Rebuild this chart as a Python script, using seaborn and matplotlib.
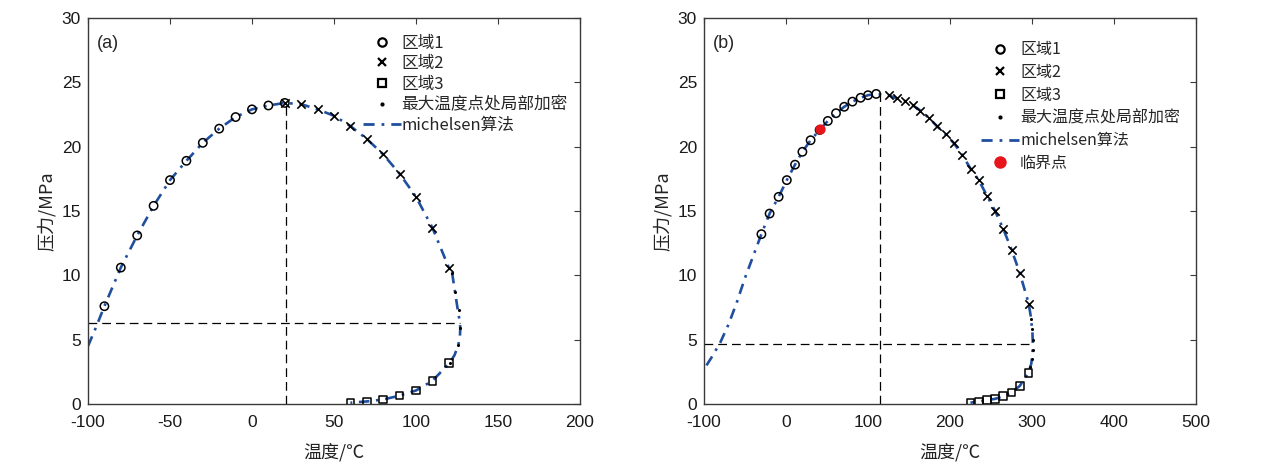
import numpy as np
import pandas as pd
import matplotlib
matplotlib.use("Agg")
import matplotlib.pyplot as plt
from matplotlib.lines import Line2D
import seaborn as sns

# ---- panel (a) data ----
a_r1_t = [-90, -80, -70, -60, -50, -40, -30, -20, -10, 0, 10, 20]
a_r1_p = [7.6, 10.6, 13.1, 15.4, 17.4, 18.9, 20.3, 21.4, 22.3, 22.9, 23.2, 23.4]
a_r2_t = [20, 30, 40, 50, 60, 70, 80, 90, 100, 110, 120]
a_r2_p = [23.4, 23.3, 22.9, 22.4, 21.6, 20.6, 19.4, 17.9, 16.1, 13.7, 10.6]
a_r3_t = [60, 70, 80, 90, 100, 110, 120]
a_r3_p = [0.1, 0.2, 0.35, 0.65, 1.05, 1.8, 3.2]
a_dense_t = [122.0, 123.8, 126.3, 126.8, 125.8, 120.6]
a_dense_p = [10.2, 8.7, 7.3, 5.9, 4.6, 3.2]
a_curve_t = [-100, -95, -90, -80, -70, -60, -50, -40, -30, -20, -10, 0, 10, 20,
             30, 40, 50, 60, 70, 80, 90, 100, 110, 120, 122.0, 123.8, 125.5,
             126.8, 127.0, 126.8, 125.8, 123.5, 120.6, 110, 100, 90, 80, 70, 60]
a_curve_p = [4.5, 6.0, 7.6, 10.6, 13.1, 15.4, 17.4, 18.9, 20.3, 21.4, 22.3, 22.9,
             23.2, 23.4, 23.3, 22.9, 22.4, 21.6, 20.6, 19.4, 17.9, 16.1, 13.7,
             10.6, 10.2, 8.7, 7.3, 6.3, 5.9, 5.3, 4.6, 3.8, 3.2, 1.8, 1.05, 0.65,
             0.35, 0.2, 0.1]
a_maxp_t, a_maxp_p = 21, 23.4     # cricondenbar
a_maxt_t, a_maxt_p = 127, 6.3     # cricondentherm

# ---- panel (b) data ----
b_r1_t = [-30, -20, -9, 1, 11, 20, 30, 41, 51, 61, 71, 81, 91, 100, 110]
b_r1_p = [13.2, 14.8, 16.1, 17.4, 18.6, 19.6, 20.5, 21.3, 22.0, 22.6, 23.1,
          23.5, 23.8, 24.0, 24.1]
b_r2_t = [125, 135, 145, 155, 164, 174, 184, 195, 205, 215, 225, 235, 245, 255,
          265, 275, 285, 296]
b_r2_p = [24.0, 23.75, 23.55, 23.2, 22.8, 22.25, 21.6, 20.95, 20.25, 19.35,
          18.3, 17.4, 16.2, 15.0, 13.6, 12.0, 10.2, 7.8]
b_r3_t = [225, 235, 245, 255, 265, 275, 285, 295.5]
b_r3_p = [0.1, 0.2, 0.3, 0.4, 0.6, 0.9, 1.4, 2.4]
b_dense_t = [299.0, 300.5, 301.0, 301.0, 300.0, 298.0]
b_dense_p = [6.6, 5.8, 5.0, 4.2, 3.5, 2.9]
b_curve_t = [-97, -90, -80, -70, -60, -50, -40] + b_r1_t + b_r2_t + \
            [298.5, 300.5, 301.0, 300.5, 299.0, 295.5, 285, 275, 265, 255, 245, 235, 225]
b_curve_p = [3.0, 3.7, 4.8, 6.2, 7.9, 9.8, 11.5] + b_r1_p + b_r2_p + \
            [6.8, 5.6, 4.7, 3.8, 3.1, 2.4, 1.4, 0.9, 0.6, 0.4, 0.3, 0.2, 0.1]
b_crit_t, b_crit_p = 41.5, 21.4
b_maxp_t, b_maxp_p = 114.6, 24.1
b_maxt_t, b_maxt_p = 301, 4.7

sns.set_style("white")
plt.rcParams['font.family'] = ['Liberation Sans', 'Noto Sans CJK SC', 'DejaVu Sans']
plt.rcParams['axes.unicode_minus'] = False
cjk = ['Noto Sans CJK SC', 'Liberation Sans']

curve_col = "#1f4f9e"
spine_col = "#3a3a3a"

fig = plt.figure(figsize=(12.69, 4.72), dpi=100)
ax_a = fig.add_axes([88 / 1269, 68 / 472, 492 / 1269, 386 / 472])
ax_b = fig.add_axes([704 / 1269, 68 / 472, 492 / 1269, 386 / 472])


def draw_panel(ax, r1, r2, r3, dense, curve, maxp, maxt, xlim):
    ax.vlines(maxp[0], 0, maxp[1], colors='k', linestyles=(0, (7, 4)), lw=0.9)
    ax.hlines(maxt[1], xlim[0], maxt[0], colors='k', linestyles=(0, (7, 4)), lw=0.9)
    cdf = pd.DataFrame({'t': curve[0], 'p': curve[1]})
    sns.lineplot(data=cdf, x='t', y='p', sort=False, estimator=None, ax=ax,
                 color=curve_col, lw=1.9, dashes=False)
    ax.lines[-1].set_dashes((4, 2.5, 1, 2.5))
    sns.scatterplot(x=r1[0], y=r1[1], ax=ax, marker='o', s=36,
                    facecolor='none', edgecolor='k', linewidth=1.1, zorder=3)
    sns.scatterplot(x=r2[0], y=r2[1], ax=ax, marker='x', s=36,
                    color='k', linewidth=1.2, zorder=3)
    sns.scatterplot(x=r3[0], y=r3[1], ax=ax, marker='s', s=30,
                    facecolor='none', edgecolor='k', linewidth=1.1, zorder=3)
    sns.scatterplot(x=dense[0], y=dense[1], ax=ax, marker='o', s=5,
                    color='k', linewidth=0, zorder=4)
    ax.set_xlim(*xlim)
    ax.set_ylim(0, 30)
    ax.set_yticks(np.arange(0, 31, 5))
    ax.set_xlabel("温度/℃", fontsize=13, labelpad=9, family=cjk, color='#222222')
    ax.set_ylabel("压力/MPa", fontsize=13, labelpad=4, family=cjk, color='#222222')
    ax.tick_params(direction='in', top=True, right=True, length=4,
                   labelsize=12.5, colors=spine_col, labelcolor='#1a1a1a')
    ax.tick_params(axis='x', pad=8)
    ax.tick_params(axis='y', pad=5)
    for sp in ax.spines.values():
        sp.set_color(spine_col)
        sp.set_linewidth(1.0)


draw_panel(ax_a, (a_r1_t, a_r1_p), (a_r2_t, a_r2_p), (a_r3_t, a_r3_p),
           (a_dense_t, a_dense_p), (a_curve_t, a_curve_p),
           (a_maxp_t, a_maxp_p), (a_maxt_t, a_maxt_p), (-100, 200))
ax_a.set_xticks(np.arange(-100, 201, 50))

draw_panel(ax_b, (b_r1_t, b_r1_p), (b_r2_t, b_r2_p), (b_r3_t, b_r3_p),
           (b_dense_t, b_dense_p), (b_curve_t, b_curve_p),
           (b_maxp_t, b_maxp_p), (b_maxt_t, b_maxt_p), (-100, 500))
sns.scatterplot(x=[b_crit_t], y=[b_crit_p], ax=ax_b, marker='o', s=55,
                color='#e8141c', linewidth=0, zorder=5)
ax_b.set_xticks(np.arange(-100, 501, 100))

labels = ["区域1", "区域2", "区域3", "最大温度点处局部加密", "michelsen算法"]


def handles():
    return [
        Line2D([], [], ls='none', marker='o', ms=6, mfc='none', mec='k', mew=1.6),
        Line2D([], [], ls='none', marker='x', ms=6, color='k', mew=1.6),
        Line2D([], [], ls='none', marker='s', ms=5.5, mfc='none', mec='k', mew=1.6),
        Line2D([], [], ls='none', marker='o', ms=2, color='k'),
        Line2D([], [], color=curve_col, lw=2, dashes=(4, 2.5, 1, 2.5)),
    ]


ax_a.legend(handles(), labels, loc='upper left', bbox_to_anchor=(0.559, 0.957),
            frameon=False, borderpad=0, labelspacing=0.22,
            handlelength=2.3, handletextpad=0.0, borderaxespad=0,
            prop={'family': cjk, 'size': 12})

hb = handles() + [Line2D([], [], ls='none', marker='o', ms=9, color='#e8141c', mew=0)]
ax_b.legend(hb, labels + ["临界点"], loc='upper left', bbox_to_anchor=(0.563, 0.94),
            frameon=False, borderpad=0, labelspacing=0.36,
            handlelength=2.4, handletextpad=0.05, borderaxespad=0,
            prop={'family': cjk, 'size': 11.5})

ax_a.text(0.018, 0.933, "(a)", transform=ax_a.transAxes, fontsize=13, va='center')
ax_b.text(0.018, 0.933, "(b)", transform=ax_b.transAxes, fontsize=13, va='center')

fig.savefig("out.png", dpi=100)
